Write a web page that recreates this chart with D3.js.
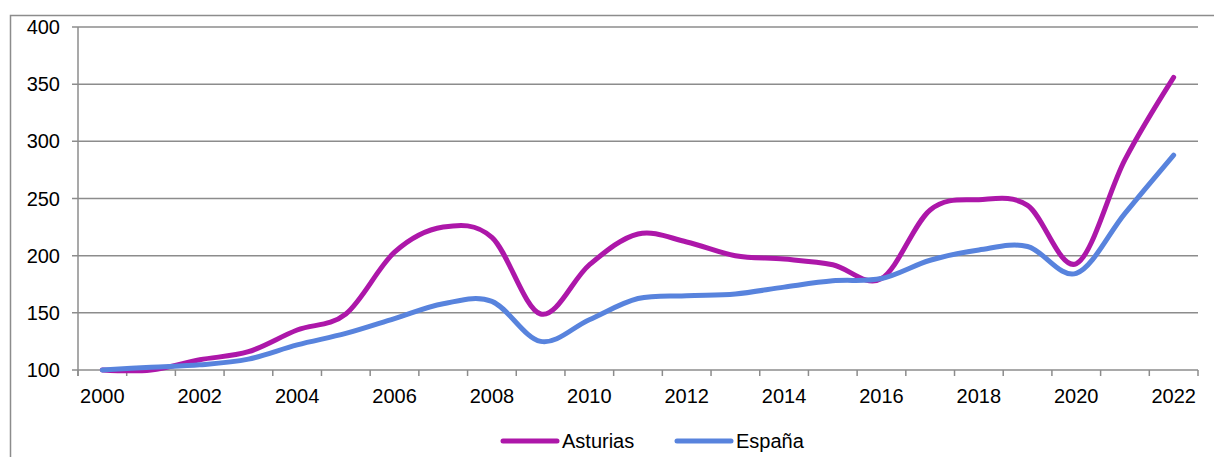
<!DOCTYPE html>
<html><head><meta charset="utf-8">
<script src="https://cdn.jsdelivr.net/npm/d3@7/dist/d3.min.js"></script>
<style>body{margin:0;background:#fff;}svg{display:block;font-family:"Liberation Sans",Arial,sans-serif;}</style>
</head><body><svg id="c" width="1214" height="457"></svg>
<script>
const years = ["2000","2001","2002","2003","2004","2005","2006","2007","2008","2009","2010","2011","2012","2013","2014","2015","2016","2017","2018","2019","2020","2021","2022"];
const asturias = [100,100,109,116,135,149,203,225,216,149,192,219,212,200,197,192,180,240,249,244,193,284,356];
const espana = [100,102.5,104.5,109.5,122,132,145,158,160,125,144,162.5,165,166.5,172.5,178,180,196,205,208,184.5,237,288];
const yTicks = [100,150,200,250,300,350,400];
const seriesNames = ["Asturias","España"];
const colors = ["#AD17A9","#5883DD"];

const svg = d3.select("#c");
const x = d3.scaleBand().domain(years).range([78,1198]).padding(0);
const y = d3.scaleLinear().domain([100,400]).range([370,27]);
const grey = "#8c8c8c";

// outer frame
svg.append("path").attr("d","M10.5,457 V15.5 H1214").attr("fill","none").attr("stroke",grey).attr("stroke-width",1.5);

// gridlines
svg.append("g").selectAll("line").data(yTicks).join("line")
  .attr("x1",72).attr("x2",1198).attr("y1",d=>y(d)).attr("y2",d=>y(d))
  .attr("stroke",grey).attr("stroke-width",1.5);

// y axis line
svg.append("line").attr("x1",78).attr("x2",78).attr("y1",y(400)).attr("y2",376).attr("stroke",grey).attr("stroke-width",1.5);

// y labels
svg.append("g").selectAll("text").data(yTicks).join("text")
  .attr("x",60).attr("y",d=>y(d)).attr("dy","0.35em").attr("text-anchor","end")
  .attr("font-size",20).attr("fill","#000").text(d=>d);

// x ticks at band boundaries
const bounds = years.map(d=>x(d)).concat([x(years[years.length-1])+x.bandwidth()]);
svg.append("g").selectAll("line").data(bounds).join("line")
  .attr("x1",d=>d).attr("x2",d=>d).attr("y1",370).attr("y2",376)
  .attr("stroke",grey).attr("stroke-width",1.5);

// x labels every other year
svg.append("g").selectAll("text").data(years.filter((d,i)=>i%2===0)).join("text")
  .attr("x",d=>x(d)+x.bandwidth()/2).attr("y",403).attr("text-anchor","middle")
  .attr("font-size",20).attr("fill","#000").text(d=>d);

// lines
const line = d3.line().x((d,i)=>x(years[i])+x.bandwidth()/2).y(d=>y(d)).curve(d3.curveCardinal.tension(0));
[asturias, espana].forEach((s,k)=>{
  svg.append("path").datum(s).attr("d",line).attr("fill","none")
    .attr("stroke",colors[k]).attr("stroke-width",5).attr("stroke-linecap","round").attr("stroke-linejoin","round");
});

// legend
const legX = [503,677];
seriesNames.forEach((n,k)=>{
  svg.append("line").attr("x1",legX[k]).attr("x2",legX[k]+54).attr("y1",441).attr("y2",441)
    .attr("stroke",colors[k]).attr("stroke-width",5).attr("stroke-linecap","round");
  svg.append("text").attr("x",legX[k]+59).attr("y",441).attr("dy","0.35em")
    .attr("font-size",20).attr("fill","#000").text(n);
});
</script></body></html>
